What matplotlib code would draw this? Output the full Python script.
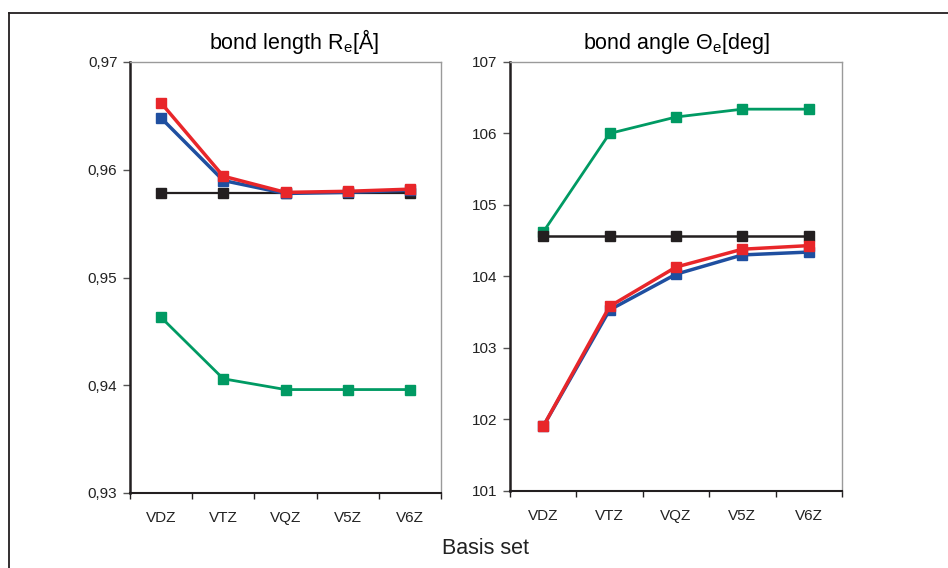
import matplotlib
matplotlib.use("Agg")
import matplotlib.pyplot as plt
from matplotlib.lines import Line2D
from matplotlib.ticker import FixedLocator, FuncFormatter

plt.rcParams['font.family'] = ['Liberation Sans', 'DejaVu Sans']
plt.rcParams['mathtext.fontset'] = 'custom'
plt.rcParams['mathtext.rm'] = 'Liberation Sans'
plt.rcParams['mathtext.it'] = 'Liberation Sans:italic'

# basis sets
basis = ['VDZ', 'VTZ', 'VQZ', 'V5Z', 'V6Z']

# bond length R_e [Angstrom]
re_red = [0.9662, 0.9594, 0.9579, 0.9580, 0.9582]
re_blue = [0.9648, 0.9590, 0.9578, 0.9579, 0.9581]
re_black = [0.9578, 0.9578, 0.9578, 0.9578, 0.9578]
re_green = [0.9463, 0.9406, 0.9396, 0.9396, 0.9396]

# bond angle Theta_e [deg]
th_green = [104.62, 106.00, 106.23, 106.34, 106.34]
th_black = [104.56, 104.56, 104.56, 104.56, 104.56]
th_red = [101.90, 103.58, 104.13, 104.38, 104.43]
th_blue = [101.90, 103.53, 104.03, 104.30, 104.34]

RED = '#e8262a'
BLUE = '#1f4fa0'
GREEN = '#009a63'
BLACK = '#231f20'

fig = plt.figure(figsize=(9.48, 5.68), dpi=100)

ax1 = fig.add_axes([130/948, 1-493/568, 311/948, 431/568])
ax2 = fig.add_axes([510/948, 1-490.7/568, 332/948, 428.7/568])

x = list(range(len(basis)))

def series(ax, y, c, lw, z):
    ax.plot(x, y, color=c, lw=lw, marker='s', ms=7.5, mec=c, mfc=c, zorder=z,
            clip_on=False)

series(ax1, re_green, GREEN, 2.0, 3)
series(ax1, re_black, BLACK, 1.6, 4)
series(ax1, re_blue, BLUE, 2.5, 5)
series(ax1, re_red, RED, 2.5, 6)

series(ax2, th_green, GREEN, 2.0, 3)
series(ax2, th_black, BLACK, 1.8, 4)
series(ax2, th_blue, BLUE, 2.5, 5)
series(ax2, th_red, RED, 2.5, 6)

ax1.set_ylim(0.93, 0.97)
ax1.yaxis.set_major_locator(FixedLocator([0.93, 0.94, 0.95, 0.96, 0.97]))
ax1.yaxis.set_major_formatter(FuncFormatter(lambda v, p: ('%.2f' % v).replace('.', ',')))
ax2.set_ylim(101, 107)
ax2.yaxis.set_major_locator(FixedLocator([101, 102, 103, 104, 105, 106, 107]))

for ax in (ax1, ax2):
    ax.set_xlim(-0.5, 4.5)
    ax.set_xticks(x)
    ax.set_xticklabels(basis)
    ax.set_xticks([i - 0.5 for i in range(6)], minor=True)
    ax.tick_params(axis='x', which='major', length=0, pad=13, labelsize=11,
                   labelcolor='#222222')
    ax.tick_params(axis='x', which='minor', length=4, width=1, color=BLACK)
    ax.tick_params(axis='y', length=5, width=1, pad=4, labelsize=11,
                   labelcolor='#222222', color='#555555')
    ax.spines['left'].set_linewidth(1.8)
    ax.spines['left'].set_color(BLACK)
    ax.spines['bottom'].set_linewidth(1.5)
    ax.spines['bottom'].set_color(BLACK)
    for s in ('top', 'right'):
        ax.spines[s].set_linewidth(1.0)
        ax.spines[s].set_color('#9a9a9a')

ax1.set_title(r'bond length R$_{\mathrm{e}}$[Å]', fontsize=15.5, pad=9, x=0.527)
ax2.set_title(r'bond angle Θ$_{\mathrm{e}}$[deg]', fontsize=15.5, pad=9)
fig.text(485/948, 1-548/568, 'Basis set', fontsize=15.5, ha='center', va='center',
         color='#222222')

# outer frame (top and left)
fig.add_artist(Line2D([9/948, 1.0], [1-13/568, 1-13/568], color=BLACK, lw=1.3,
                      transform=fig.transFigure))
fig.add_artist(Line2D([9/948, 9/948], [1-13/568, 0.0], color=BLACK, lw=1.3,
                      transform=fig.transFigure))

fig.savefig('out.png', dpi=100)
